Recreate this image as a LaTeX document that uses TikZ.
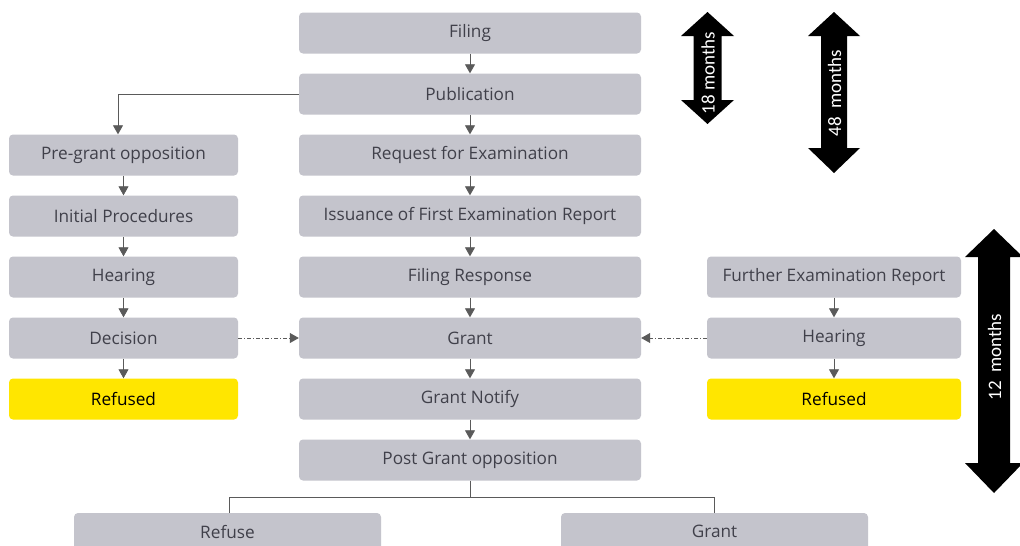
\documentclass[tikz,border=0pt]{standalone}
\usepackage{fontspec}
\setmainfont{Open Sans}
\newfontfamily\arrfont{Carlito}
\usetikzlibrary{arrows.meta}
\definecolor{boxgray}{HTML}{C4C4CC}
\definecolor{eyyellow}{HTML}{FFE600}
\definecolor{txt}{HTML}{40404A}
\definecolor{lin}{HTML}{5A5A5A}
\tikzset{
  box/.style={rectangle, rounded corners=4pt, fill=boxgray, minimum height=41pt, inner sep=0pt, text=txt, font=\fontsize{17.2}{20}\selectfont},
  cbox/.style={box, minimum width=342pt},
  lbox/.style={box, minimum width=229pt},
  rbox/.style={box, minimum width=254pt},
  bbox/.style={box, minimum width=307pt, minimum height=37pt},
  ybox/.style={fill=eyyellow, text=black},
  arr/.style={draw=lin, line width=0.8pt, -{Triangle[width=10pt,length=9pt]}},
  plain/.style={draw=lin, line width=0.8pt},
  dd/.style={arr, dash pattern=on 4pt off 2pt on 1pt off 2pt},
  barrow/.style={fill=black},
  blabel/.style={text=white, rotate=90, font=\arrfont\fontsize{19}{22}\selectfont, inner sep=0pt}
}
\begin{document}
\begin{tikzpicture}[x=1pt,y=-1pt]
\useasboundingbox[fill=white] (0,0) rectangle (1020,546);
% centre column
\node[cbox] (fil) at (470,33) {Filing};
\node[cbox] (pub) at (470,94) {Publication};
\node[cbox] (req) at (470,155) {Request for Examination};
\node[cbox] (iss) at (470,216) {Issuance of First Examination Report};
\node[cbox] (res) at (470,277) {Filing Response};
\node[cbox] (gra) at (470,338) {Grant};
\node[cbox] (gno) at (470,399) {Grant Notify};
\node[cbox] (pgo) at (470,460) {Post Grant opposition};
% left column
\node[lbox] (pre) at (123.5,155) {Pre-grant opposition};
\node[lbox] (ini) at (123.5,216) {Initial Procedures};
\node[lbox] (lhe) at (123.5,277) {Hearing};
\node[lbox] (dec) at (123.5,338) {Decision};
\node[lbox,ybox] (lre) at (123.5,399) {Refused};
% right column
\node[rbox] (fer) at (834,277) {Further Examination Report};
\node[rbox] (rhe) at (834,338) {Hearing};
\node[rbox,ybox] (rre) at (834,399) {Refused};
% bottom
\node[bbox] (bref) at (227.5,531.5) {Refuse};
\node[bbox] (bgra) at (714.5,531.5) {Grant};
% connectors
\draw[arr] (fil) -- (pub);
\draw[arr] (pub) -- (req);
\draw[arr] (req) -- (iss);
\draw[arr] (iss) -- (res);
\draw[arr] (res) -- (gra);
\draw[arr] (gra) -- (gno);
\draw[arr] (gno) -- (pgo);
\draw[arr] (pub.west) -| ([xshift=-5.5pt]pre.north);
\draw[arr] (pre) -- (ini);
\draw[arr] (ini) -- (lhe);
\draw[arr] (lhe) -- (dec);
\draw[arr] (dec) -- (lre);
\draw[arr] (fer) -- (rhe);
\draw[arr] (rhe) -- (rre);
\draw[dd] (dec) -- (gra);
\draw[dd] (rhe) -- (gra);
\draw[plain] (pgo.south) -- ++(0,17) coordinate (br);
\draw[plain] (br) -| ([xshift=1.5pt]bref.north);
\draw[plain] (br) -| (bgra.north);
% block arrows
\fill[barrow] (707.5,12) -- (734,36) -- (721.5,36) -- (721.5,100) -- (734,100) -- (707.5,124) -- (681,100) -- (693.5,100) -- (693.5,36) -- (681,36) -- cycle;
\node[blabel] (m18) at (708,73) {18 months};
\fill[barrow] (834,12) -- (860,36) -- (847,36) -- (847,148) -- (860,148) -- (834,173) -- (808,148) -- (821,148) -- (821,36) -- (808,36) -- cycle;
\node[blabel] (m48) at (834.5,93) {48\ \ months};
\fill[barrow] (994,229) -- (1023,257) -- (1010,257) -- (1010,463) -- (1023,463) -- (994,493) -- (965,463) -- (978,463) -- (978,257) -- (965,257) -- cycle;
\node[blabel] (m12) at (994.5,357) {12\ \ months};
\end{tikzpicture}
\end{document}
